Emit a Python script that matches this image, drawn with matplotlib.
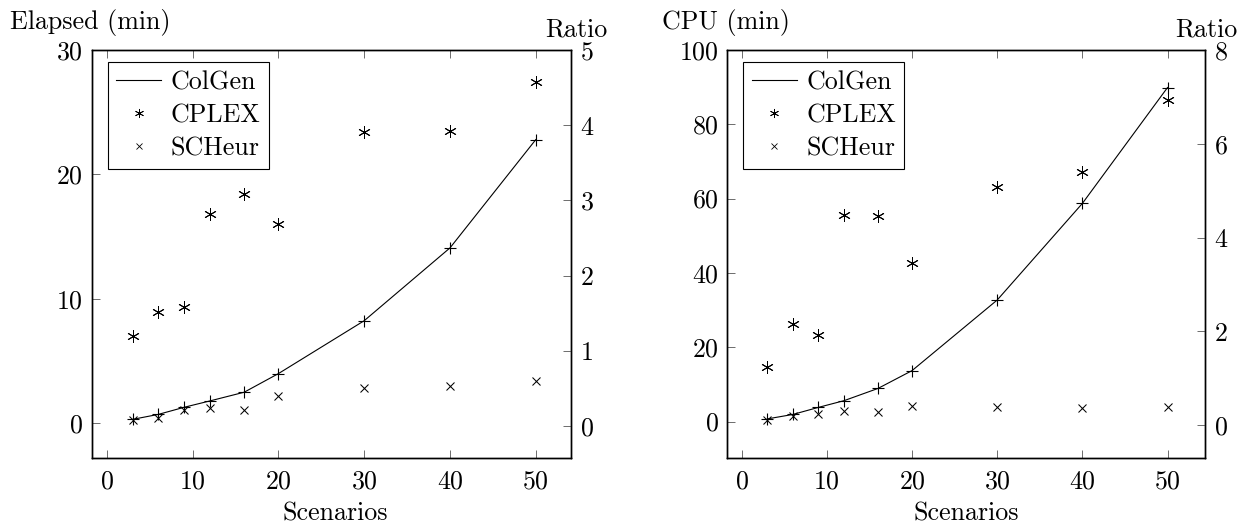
import numpy as np
import matplotlib
matplotlib.use("Agg")
import matplotlib.pyplot as plt
from matplotlib.lines import Line2D

plt.rcParams['font.family'] = 'serif'
plt.rcParams['font.serif'] = ['cmr10', 'DejaVu Serif']
plt.rcParams['mathtext.fontset'] = 'cm'
plt.rcParams['axes.formatter.use_mathtext'] = True

# scenarios on the x axis
scenarios = [3, 6, 9, 12, 16, 20, 30, 40, 50]

# elapsed time (min)
elapsed_colgen = [0.32, 0.72, 1.29, 1.8, 2.5, 4.0, 8.25, 14.1, 22.8]
elapsed_cplex = [7.05, 8.92, 9.38, 16.8, 18.4, 16.0, 23.4, 23.5, 27.4]
elapsed_scheur = [0.27, 0.45, 1.1, 1.2, 1.1, 2.2, 2.8, 3.0, 3.4]

# cpu time (min)
cpu_colgen = [0.7, 1.9, 3.8, 5.6, 8.9, 13.7, 32.7, 58.7, 89.9]
cpu_cplex = [14.8, 26.2, 23.3, 55.5, 55.2, 42.8, 63.1, 67.2, 86.6]
cpu_scheur = [0.5, 1.4, 1.9, 2.7, 2.5, 4.1, 3.8, 3.6, 4.0]

W, H = 1245, 526
fig = plt.figure(figsize=(W / 100, H / 100), dpi=100)

FS = 18.7
asterisk = (6, 2, 0)
TOP, BOT = 50, 458.3


def ftext(x, y, s, **kw):
    # position in pixels from the top-left corner
    fig.text(x / W, 1 - y / H, s, fontsize=FS, va='center', **kw)


def panel(left_px, right_px, ys, ylim, yticks, rlim, rticks, xlim,
          ylabel, ylabel_px, ratio_px, scen_px):
    ax = fig.add_axes([left_px / W, (H - BOT) / H,
                       (right_px - left_px) / W, (BOT - TOP) / H])
    colgen, cplex, scheur = ys
    ax.plot(scenarios, colgen, color='black', lw=0.8, marker='+',
            ms=8, mew=0.8)
    ax.plot(scenarios, cplex, ls='none', color='black', marker=asterisk,
            ms=9, mew=0.7)
    ax.plot(scenarios, scheur, ls='none', color='black', marker='x',
            ms=6, mew=0.75)
    ax.set_xlim(*xlim)
    ax.set_ylim(*ylim)
    ax.set_xticks([0, 10, 20, 30, 40, 50])
    ax.set_yticks(yticks)
    ax.tick_params(direction='in', length=6, width=0.6, labelsize=FS,
                   top=True, right=False, color='#555555')
    ax.tick_params(axis='x', pad=8)
    ax.tick_params(axis='y', pad=6)
    for s in ax.spines.values():
        s.set_linewidth(1.0)

    ax2 = ax.twinx()
    ax2.set_ylim(*rlim)
    ax2.set_yticks(rticks)
    ax2.tick_params(direction='in', length=6, width=0.6, labelsize=FS,
                    pad=6.5, color='#555555')
    for s in ax2.spines.values():
        s.set_linewidth(1.0)

    handles = [Line2D([], [], color='black', lw=0.8),
               Line2D([], [], ls='none', color='black', marker=asterisk,
                      ms=6.5, mew=0.6),
               Line2D([], [], ls='none', color='black', marker='x',
                      ms=4.5, mew=0.6)]
    h = BOT - TOP
    leg = ax2.legend(handles, ['ColGen', 'CPLEX', 'SCHeur'],
                     loc='upper left',
                     bbox_to_anchor=((107.7 - 91.7) / 479, (BOT - 62.3) / h),
                     fontsize=FS, fancybox=False, edgecolor='black',
                     framealpha=1, borderpad=0.32, labelspacing=0.36,
                     handlelength=1.75, handletextpad=0.35, borderaxespad=0)
    leg.get_frame().set_linewidth(0.8)

    ftext(ylabel_px[0], ylabel_px[1], ylabel, ha='left')
    ftext(ratio_px[0], ratio_px[1], 'Ratio', ha='center')
    ftext(scen_px[0], scen_px[1], 'Scenarios', ha='center')
    return ax


panel(91.7, 570.7, (elapsed_colgen, elapsed_cplex, elapsed_scheur),
      (-2.81, 30), [0, 10, 20, 30], (-0.43, 5), [0, 1, 2, 3, 4, 5],
      (-1.78, 54.07), 'Elapsed (min)', (10, 22.7), (576, 29.3), (335, 514))
panel(727.3, 1205, (cpu_colgen, cpu_cplex, cpu_scheur),
      (-9.9, 100), [0, 20, 40, 60, 80, 100], (-0.71, 8), [0, 2, 4, 6, 8],
      (-1.69, 54.4), 'CPU (min)', (662, 22.7), (1206, 29.3), (966, 514))

fig.savefig('out.png', dpi=100)
